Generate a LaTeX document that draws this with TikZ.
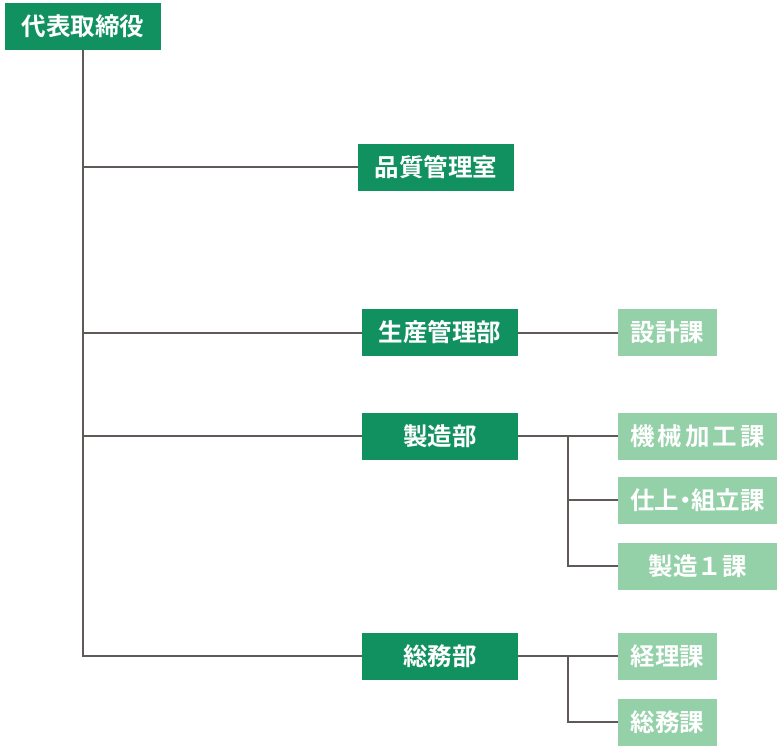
\documentclass[tikz,border=0pt]{standalone}
\usepackage{fontspec}
\newfontfamily\cjk{Noto Sans CJK JP}[BoldFont={Noto Sans CJK JP Bold}]
\definecolor{dkgreen}{RGB}{18,145,96}
\definecolor{ltgreen}{RGB}{148,208,168}
\definecolor{linec}{RGB}{95,90,88}
\tikzset{
  box/.style={inner sep=0pt, text=white, font=\cjk\bfseries\fontsize{24.5}{26}\selectfont},
  mainbox/.style={box, fill=dkgreen, minimum width=156pt, minimum height=47pt},
  subbox/.style={box, fill=ltgreen, minimum height=47pt},
  conn/.style={draw=linec, line width=2pt}
}
\begin{document}
\begin{tikzpicture}[x=1pt,y=-1pt]
\useasboundingbox (0,0) rectangle (780,748);
\node[mainbox] (top) at (83,26.5) {代表取締役};
\node[mainbox] (qa) at (436,167) {品質管理室};
\node[mainbox] (pm) at (440,332.5) {生産管理部};
\node[mainbox] (mfg) at (440,436) {製造部};
\node[mainbox] (ga) at (440,656) {総務部};
\node[subbox, minimum width=99pt] (design) at (667.5,332.5) {設計課};
\node[subbox, minimum width=159pt] (mach) at (697.5,436) {\addfontfeature{LetterSpace=12}機械加工課};
\node[subbox, minimum width=159pt] (fin) at (697.5,500) {仕上\makebox[0.5em][c]{・}組立課};
\node[subbox, minimum width=159pt] (m1) at (697.5,566) {製造１課};
\node[subbox, minimum width=99pt] (acc) at (667.5,656) {経理課};
\node[subbox, minimum width=99pt] (gen) at (667.5,722) {総務課};
\path (mfg.east) -- ++(50,0) coordinate (b1);
\path (ga.east) -- ++(50,0) coordinate (b2);
\draw[conn] (top.south) |- (ga.west);
\draw[conn] (top.south) |- (qa.west);
\draw[conn] (top.south) |- (pm.west);
\draw[conn] (top.south) |- (mfg.west);
\draw[conn] (pm.east) -- (design.west);
\draw[conn] (mfg.east) -- (mach.west);
\draw[conn] (b1) |- (fin.west);
\draw[conn] (b1) |- (m1.west);
\draw[conn] (ga.east) -- (acc.west);
\draw[conn] (b2) |- (gen.west);
\end{tikzpicture}
\end{document}
